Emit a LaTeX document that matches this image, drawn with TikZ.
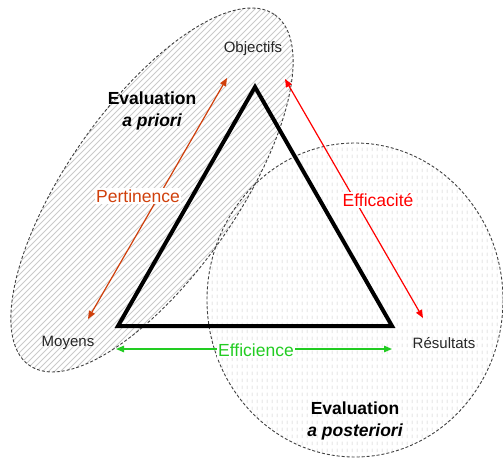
\documentclass[tikz,border=0pt]{standalone}
\usepackage{fontspec}
\setmainfont{Liberation Sans}
\usetikzlibrary{arrows.meta,patterns.meta}
\definecolor{pertorange}{HTML}{D0400C}
\definecolor{effred}{HTML}{FF0000}
\definecolor{effgreen}{HTML}{22CC22}
\definecolor{hatchgray}{HTML}{CACACA}
\definecolor{dotgray}{HTML}{C8C8C8}
\tikzdeclarepattern{
  name=vdashes,
  type=uncolored,
  bounding box={(0pt,0pt) and (5pt,6.5pt)},
  tile size={(5pt,6.5pt)},
  code={\draw[line width=0.8pt] (2.5pt,1pt) -- (2.5pt,4.8pt);}
}

\begin{document}
\begin{tikzpicture}[x=1pt,y=-1pt,
  zone/.style={draw=black!75,dash pattern=on 3pt off 2pt,line width=0.9pt},
  hatch/.style={hatchgray,line width=1pt},
  pole/.style={font=\fontsize{15}{18}\selectfont,text=black!85},
  crit/.style={font=\fontsize{17.5}{21}\selectfont,fill=white,inner sep=1.5pt},
  evalt/.style={font=\fontsize{17.5}{22}\selectfont\bfseries,align=center},
  arr/.style={{Triangle[length=8pt,width=6.5pt]}-{Triangle[length=8pt,width=6.5pt]},line width=1.2pt},
]
  \useasboundingbox (0,0) rectangle (503,459);

  % Evaluation zones
  \path[pattern=vdashes,pattern color=dotgray] (355,300) ellipse [x radius=148,y radius=157];
  \begin{scope}
    \clip[rotate around={55:(152,190)}] (152,190) ellipse [x radius=214,y radius=85];
    \foreach \k in {-460,-454,...,320}
      \draw[hatch] (\k,400) -- ({\k+400},0);
  \end{scope}
  \draw[zone] (355,300) ellipse [x radius=148,y radius=157];
  \draw[zone,rotate around={55:(152,190)}] (152,190) ellipse [x radius=214,y radius=85];

  % Triangle
  \coordinate (obj) at (255,87);
  \coordinate (moy) at (118,326);
  \coordinate (res) at (392,326);
  \draw[line width=4pt,line join=miter] (obj) -- (res) -- (moy) -- cycle;

  % Poles
  \node[pole] (lobj) at (253,49) {Objectifs};
  \node[pole] (lmoy) at (68,343) {Moyens};
  \node[pole] (lres) at (444,343) {Résultats};

  % Criteria arrows
  \coordinate (pertA) at (88,319);
  \coordinate (pertB) at (227,78);
  \coordinate (effA) at (285,79);
  \coordinate (effB) at (423,318);
  \coordinate (ficA) at (116,349);
  \coordinate (ficB) at (392,349);
  \draw[arr,pertorange] (pertA) -- (pertB);
  \draw[arr,effred] (effA) -- (effB);
  \draw[arr,effgreen] (ficA) -- (ficB);

  \node[crit,text=pertorange] (pert) at (138,196) {Pertinence};
  \node[crit,text=effred] (effic) at (378,200) {Efficacité};
  \node[crit,text=effgreen] (effi) at (256,350) {Efficience};

  % Evaluation labels
  \node[evalt] (prio) at (152,111) {Evaluation\\\itshape a priori};
  \node[evalt] (post) at (355,421) {Evaluation\\\itshape a posteriori};
\end{tikzpicture}
\end{document}
